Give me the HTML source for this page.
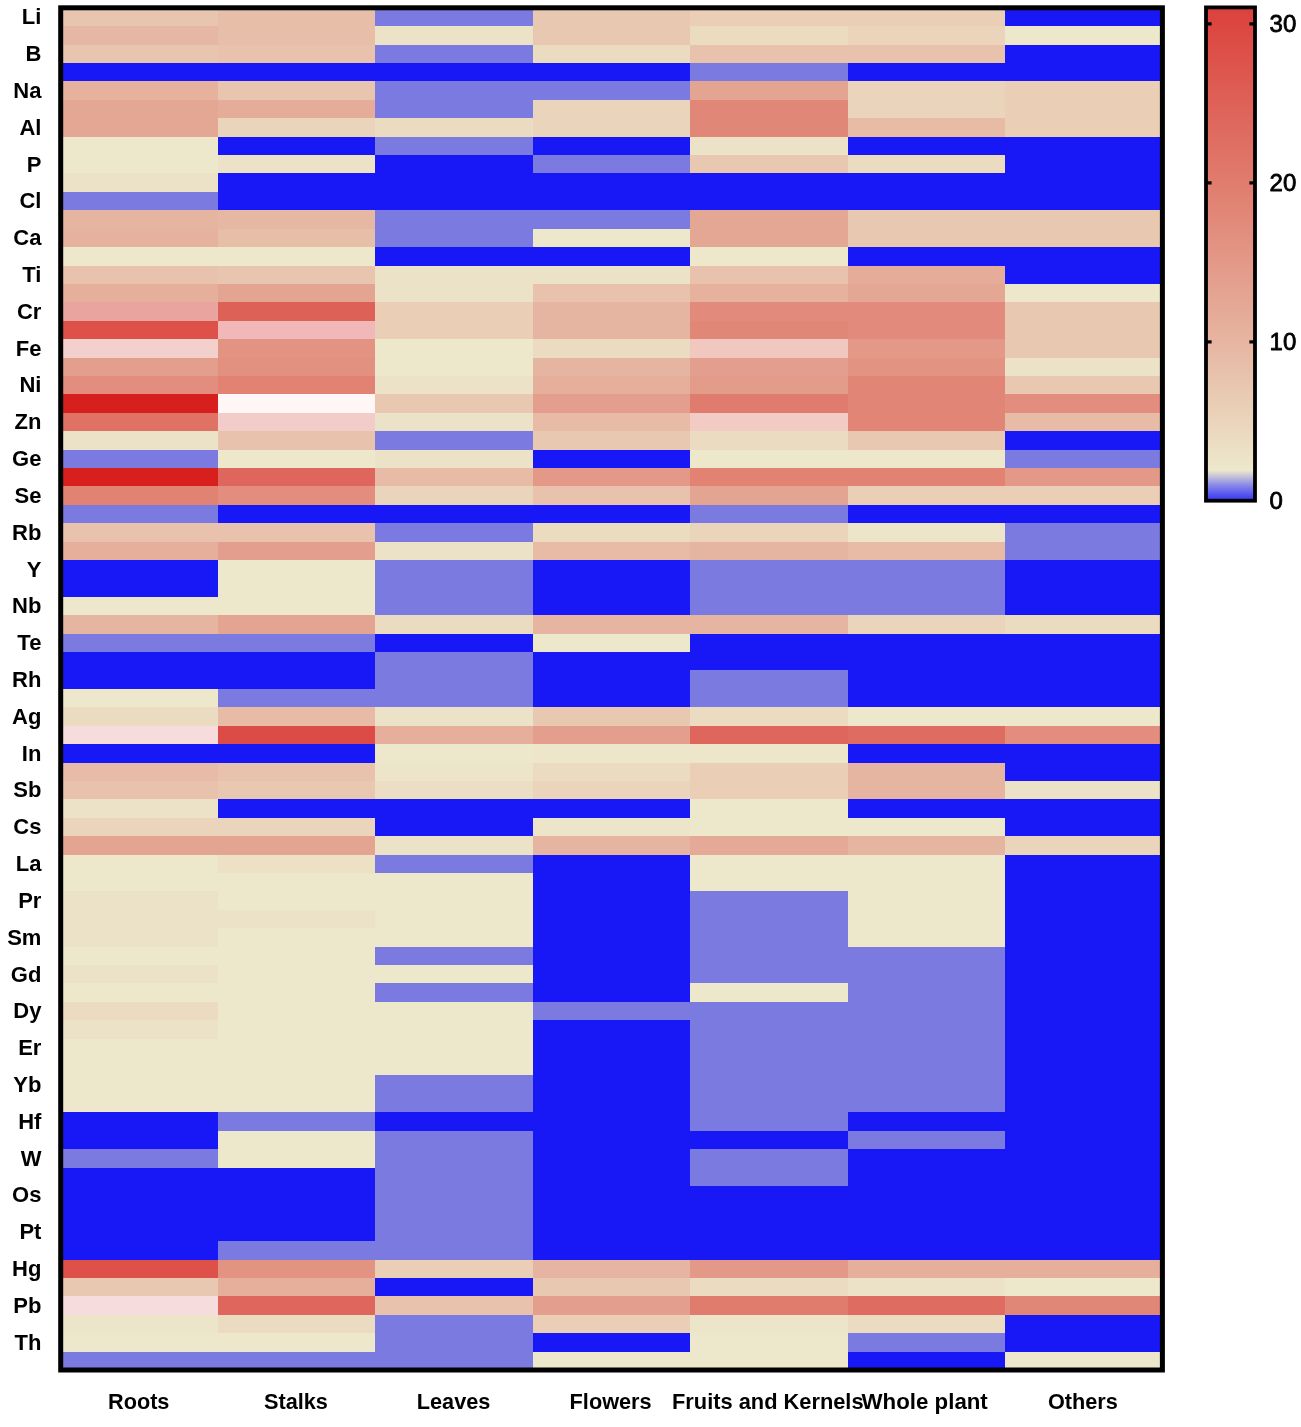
<!DOCTYPE html><html><head><meta charset="utf-8"><title>Heatmap</title><style>html,body{margin:0;padding:0;background:#fff}svg{display:block}text{font-family:"Liberation Sans",Arial,sans-serif;fill:#000}.b{font-weight:bold}</style></head><body>
<svg width="1301" height="1427" viewBox="0 0 1301 1427">
<defs><linearGradient id="cb" x1="0" y1="1" x2="0" y2="0">
<stop offset="0.0000" stop-color="#3c3cf6"/>
<stop offset="0.0081" stop-color="#4848f4"/>
<stop offset="0.0323" stop-color="#8c8ce8"/>
<stop offset="0.0613" stop-color="#ede8cc"/>
<stop offset="0.3226" stop-color="#e6b5a1"/>
<stop offset="0.6452" stop-color="#e07c6e"/>
<stop offset="0.9677" stop-color="#dc4640"/>
<stop offset="1.0000" stop-color="#db423e"/>
</linearGradient></defs>
<rect width="1301" height="1427" fill="#fff"/>
<g shape-rendering="crispEdges">
<rect x="60.70" y="7.80" width="157.89" height="18.91" fill="#e8c5ae"/>
<rect x="60.70" y="26.21" width="157.89" height="18.91" fill="#e6b8a4"/>
<rect x="60.70" y="44.62" width="157.89" height="18.91" fill="#e8c5ae"/>
<rect x="60.70" y="63.02" width="157.89" height="18.91" fill="#1818f6"/>
<rect x="60.70" y="81.43" width="157.89" height="18.91" fill="#e6b29e"/>
<rect x="60.70" y="99.84" width="157.89" height="37.32" fill="#e4a794"/>
<rect x="60.70" y="136.66" width="157.89" height="37.32" fill="#ede8cc"/>
<rect x="60.70" y="173.47" width="157.89" height="18.91" fill="#ece2c7"/>
<rect x="60.70" y="191.88" width="157.89" height="18.91" fill="#7a7ae0"/>
<rect x="60.70" y="210.29" width="157.89" height="18.91" fill="#e6b5a1"/>
<rect x="60.70" y="228.70" width="157.89" height="18.91" fill="#e6b29e"/>
<rect x="60.70" y="247.11" width="157.89" height="18.91" fill="#ede8cc"/>
<rect x="60.70" y="265.51" width="157.89" height="18.91" fill="#e8c2ac"/>
<rect x="60.70" y="283.92" width="157.89" height="18.91" fill="#e5af9c"/>
<rect x="60.70" y="302.33" width="157.89" height="18.91" fill="#eaa4a0"/>
<rect x="60.70" y="320.74" width="157.89" height="18.91" fill="#dd5149"/>
<rect x="60.70" y="339.15" width="157.89" height="18.91" fill="#f4d0cc"/>
<rect x="60.70" y="357.55" width="157.89" height="18.91" fill="#e49e8d"/>
<rect x="60.70" y="375.96" width="157.89" height="18.91" fill="#e28d7d"/>
<rect x="60.70" y="394.37" width="157.89" height="18.91" fill="#d7201d"/>
<rect x="60.70" y="412.78" width="157.89" height="18.91" fill="#df7165"/>
<rect x="60.70" y="431.19" width="157.89" height="18.91" fill="#ece2c7"/>
<rect x="60.70" y="449.59" width="157.89" height="18.91" fill="#7a7ae0"/>
<rect x="60.70" y="468.00" width="157.89" height="18.91" fill="#d7201d"/>
<rect x="60.70" y="486.41" width="157.89" height="18.91" fill="#e18273"/>
<rect x="60.70" y="504.82" width="157.89" height="18.91" fill="#7a7ae0"/>
<rect x="60.70" y="523.23" width="157.89" height="18.91" fill="#e8c2ac"/>
<rect x="60.70" y="541.64" width="157.89" height="18.91" fill="#e5af9c"/>
<rect x="60.70" y="560.04" width="157.89" height="37.32" fill="#1818f6"/>
<rect x="60.70" y="596.86" width="157.89" height="18.91" fill="#ede8cc"/>
<rect x="60.70" y="615.27" width="157.89" height="18.91" fill="#e6b5a1"/>
<rect x="60.70" y="633.68" width="157.89" height="18.91" fill="#7a7ae0"/>
<rect x="60.70" y="652.08" width="157.89" height="37.32" fill="#1818f6"/>
<rect x="60.70" y="688.90" width="157.89" height="18.91" fill="#ede8cc"/>
<rect x="60.70" y="707.31" width="157.89" height="18.91" fill="#ebdbc1"/>
<rect x="60.70" y="725.72" width="157.89" height="18.91" fill="#f6dcdc"/>
<rect x="60.70" y="744.12" width="157.89" height="18.91" fill="#1818f6"/>
<rect x="60.70" y="762.53" width="157.89" height="18.91" fill="#e7bba6"/>
<rect x="60.70" y="780.94" width="157.89" height="18.91" fill="#e8c2ac"/>
<rect x="60.70" y="799.35" width="157.89" height="18.91" fill="#ece2c7"/>
<rect x="60.70" y="817.76" width="157.89" height="18.91" fill="#ead5bc"/>
<rect x="60.70" y="836.16" width="157.89" height="18.91" fill="#e4a492"/>
<rect x="60.70" y="854.57" width="157.89" height="37.32" fill="#ede7cb"/>
<rect x="60.70" y="891.39" width="157.89" height="55.72" fill="#ece2c7"/>
<rect x="60.70" y="946.61" width="157.89" height="18.91" fill="#ede7cb"/>
<rect x="60.70" y="965.02" width="157.89" height="18.91" fill="#ece2c7"/>
<rect x="60.70" y="983.43" width="157.89" height="18.91" fill="#ede7cb"/>
<rect x="60.70" y="1001.84" width="157.89" height="18.91" fill="#ebdbc1"/>
<rect x="60.70" y="1020.25" width="157.89" height="18.91" fill="#ece2c7"/>
<rect x="60.70" y="1038.65" width="157.89" height="74.13" fill="#ede8cc"/>
<rect x="60.70" y="1112.29" width="157.89" height="37.32" fill="#1818f6"/>
<rect x="60.70" y="1149.10" width="157.89" height="18.91" fill="#7a7ae0"/>
<rect x="60.70" y="1167.51" width="157.89" height="92.54" fill="#1818f6"/>
<rect x="60.70" y="1259.55" width="157.89" height="18.91" fill="#dd5149"/>
<rect x="60.70" y="1277.96" width="157.89" height="18.91" fill="#e9c8b1"/>
<rect x="60.70" y="1296.37" width="157.89" height="18.91" fill="#f6dcdc"/>
<rect x="60.70" y="1314.78" width="157.89" height="18.91" fill="#ede5c9"/>
<rect x="60.70" y="1333.18" width="157.89" height="18.91" fill="#ede8cc"/>
<rect x="60.70" y="1351.59" width="157.89" height="18.91" fill="#7a7ae0"/>
<rect x="218.09" y="7.80" width="157.89" height="37.32" fill="#e7bfa9"/>
<rect x="218.09" y="44.62" width="157.89" height="18.91" fill="#e8c2ac"/>
<rect x="218.09" y="63.02" width="157.89" height="18.91" fill="#1818f6"/>
<rect x="218.09" y="81.43" width="157.89" height="18.91" fill="#e8c5ae"/>
<rect x="218.09" y="99.84" width="157.89" height="18.91" fill="#e5ac99"/>
<rect x="218.09" y="118.25" width="157.89" height="18.91" fill="#ead5bc"/>
<rect x="218.09" y="136.66" width="157.89" height="18.91" fill="#1818f6"/>
<rect x="218.09" y="155.06" width="157.89" height="18.91" fill="#ece2c7"/>
<rect x="218.09" y="173.47" width="157.89" height="37.32" fill="#1818f6"/>
<rect x="218.09" y="210.29" width="157.89" height="18.91" fill="#e6b8a4"/>
<rect x="218.09" y="228.70" width="157.89" height="18.91" fill="#e7bfa9"/>
<rect x="218.09" y="247.11" width="157.89" height="18.91" fill="#ede8cc"/>
<rect x="218.09" y="265.51" width="157.89" height="18.91" fill="#e8c5ae"/>
<rect x="218.09" y="283.92" width="157.89" height="18.91" fill="#e4a492"/>
<rect x="218.09" y="302.33" width="157.89" height="18.91" fill="#de6157"/>
<rect x="218.09" y="320.74" width="157.89" height="18.91" fill="#f0b8b8"/>
<rect x="218.09" y="339.15" width="157.89" height="18.91" fill="#e29382"/>
<rect x="218.09" y="357.55" width="157.89" height="18.91" fill="#e29080"/>
<rect x="218.09" y="375.96" width="157.89" height="18.91" fill="#e18273"/>
<rect x="218.09" y="394.37" width="157.89" height="18.91" fill="#fff6f6"/>
<rect x="218.09" y="412.78" width="157.89" height="18.91" fill="#f2ccc8"/>
<rect x="218.09" y="431.19" width="157.89" height="18.91" fill="#e8c2ac"/>
<rect x="218.09" y="449.59" width="157.89" height="18.91" fill="#ede8cc"/>
<rect x="218.09" y="468.00" width="157.89" height="18.91" fill="#de665c"/>
<rect x="218.09" y="486.41" width="157.89" height="18.91" fill="#e28d7d"/>
<rect x="218.09" y="504.82" width="157.89" height="18.91" fill="#1818f6"/>
<rect x="218.09" y="523.23" width="157.89" height="18.91" fill="#e8c2ac"/>
<rect x="218.09" y="541.64" width="157.89" height="18.91" fill="#e49e8d"/>
<rect x="218.09" y="560.04" width="157.89" height="55.72" fill="#ede8cc"/>
<rect x="218.09" y="615.27" width="157.89" height="18.91" fill="#e4a492"/>
<rect x="218.09" y="633.68" width="157.89" height="18.91" fill="#7a7ae0"/>
<rect x="218.09" y="652.08" width="157.89" height="37.32" fill="#1818f6"/>
<rect x="218.09" y="688.90" width="157.89" height="18.91" fill="#7a7ae0"/>
<rect x="218.09" y="707.31" width="157.89" height="18.91" fill="#e7bba6"/>
<rect x="218.09" y="725.72" width="157.89" height="18.91" fill="#dc4b45"/>
<rect x="218.09" y="744.12" width="157.89" height="18.91" fill="#1818f6"/>
<rect x="218.09" y="762.53" width="157.89" height="18.91" fill="#e8c2ac"/>
<rect x="218.09" y="780.94" width="157.89" height="18.91" fill="#e9c8b1"/>
<rect x="218.09" y="799.35" width="157.89" height="18.91" fill="#1818f6"/>
<rect x="218.09" y="817.76" width="157.89" height="18.91" fill="#ead5bc"/>
<rect x="218.09" y="836.16" width="157.89" height="18.91" fill="#e4a492"/>
<rect x="218.09" y="854.57" width="157.89" height="18.91" fill="#ece0c5"/>
<rect x="218.09" y="872.98" width="157.89" height="37.32" fill="#ede7cb"/>
<rect x="218.09" y="909.80" width="157.89" height="18.91" fill="#ece2c7"/>
<rect x="218.09" y="928.21" width="157.89" height="184.58" fill="#ede8cc"/>
<rect x="218.09" y="1112.29" width="157.89" height="18.91" fill="#7a7ae0"/>
<rect x="218.09" y="1130.69" width="157.89" height="37.32" fill="#ede8cc"/>
<rect x="218.09" y="1167.51" width="157.89" height="74.13" fill="#1818f6"/>
<rect x="218.09" y="1241.14" width="157.89" height="18.91" fill="#7a7ae0"/>
<rect x="218.09" y="1259.55" width="157.89" height="18.91" fill="#e29382"/>
<rect x="218.09" y="1277.96" width="157.89" height="18.91" fill="#e5af9c"/>
<rect x="218.09" y="1296.37" width="157.89" height="18.91" fill="#de665c"/>
<rect x="218.09" y="1314.78" width="157.89" height="18.91" fill="#ebdbc1"/>
<rect x="218.09" y="1333.18" width="157.89" height="18.91" fill="#ede8cc"/>
<rect x="218.09" y="1351.59" width="157.89" height="18.91" fill="#7a7ae0"/>
<rect x="375.47" y="7.80" width="157.89" height="18.91" fill="#7a7ae0"/>
<rect x="375.47" y="26.21" width="157.89" height="18.91" fill="#ece2c7"/>
<rect x="375.47" y="44.62" width="157.89" height="18.91" fill="#7a7ae0"/>
<rect x="375.47" y="63.02" width="157.89" height="18.91" fill="#1818f6"/>
<rect x="375.47" y="81.43" width="157.89" height="37.32" fill="#7a7ae0"/>
<rect x="375.47" y="118.25" width="157.89" height="18.91" fill="#ebdbc1"/>
<rect x="375.47" y="136.66" width="157.89" height="18.91" fill="#7a7ae0"/>
<rect x="375.47" y="155.06" width="157.89" height="55.72" fill="#1818f6"/>
<rect x="375.47" y="210.29" width="157.89" height="37.32" fill="#7a7ae0"/>
<rect x="375.47" y="247.11" width="157.89" height="18.91" fill="#1818f6"/>
<rect x="375.47" y="265.51" width="157.89" height="37.32" fill="#ece2c7"/>
<rect x="375.47" y="302.33" width="157.89" height="37.32" fill="#eaceb6"/>
<rect x="375.47" y="339.15" width="157.89" height="37.32" fill="#ede8cc"/>
<rect x="375.47" y="375.96" width="157.89" height="18.91" fill="#ece2c7"/>
<rect x="375.47" y="394.37" width="157.89" height="18.91" fill="#e9c8b1"/>
<rect x="375.47" y="412.78" width="157.89" height="18.91" fill="#ece2c7"/>
<rect x="375.47" y="431.19" width="157.89" height="18.91" fill="#7a7ae0"/>
<rect x="375.47" y="449.59" width="157.89" height="18.91" fill="#ece2c7"/>
<rect x="375.47" y="468.00" width="157.89" height="18.91" fill="#e7bba6"/>
<rect x="375.47" y="486.41" width="157.89" height="18.91" fill="#ead5bc"/>
<rect x="375.47" y="504.82" width="157.89" height="18.91" fill="#1818f6"/>
<rect x="375.47" y="523.23" width="157.89" height="18.91" fill="#7a7ae0"/>
<rect x="375.47" y="541.64" width="157.89" height="18.91" fill="#ece2c7"/>
<rect x="375.47" y="560.04" width="157.89" height="55.72" fill="#7a7ae0"/>
<rect x="375.47" y="615.27" width="157.89" height="18.91" fill="#ebdbc1"/>
<rect x="375.47" y="633.68" width="157.89" height="18.91" fill="#1818f6"/>
<rect x="375.47" y="652.08" width="157.89" height="55.72" fill="#7a7ae0"/>
<rect x="375.47" y="707.31" width="157.89" height="18.91" fill="#ece2c7"/>
<rect x="375.47" y="725.72" width="157.89" height="18.91" fill="#e5af9c"/>
<rect x="375.47" y="744.12" width="157.89" height="18.91" fill="#ede8cc"/>
<rect x="375.47" y="762.53" width="157.89" height="18.91" fill="#ede5c9"/>
<rect x="375.47" y="780.94" width="157.89" height="18.91" fill="#ecdec4"/>
<rect x="375.47" y="799.35" width="157.89" height="37.32" fill="#1818f6"/>
<rect x="375.47" y="836.16" width="157.89" height="18.91" fill="#ece2c7"/>
<rect x="375.47" y="854.57" width="157.89" height="18.91" fill="#7a7ae0"/>
<rect x="375.47" y="872.98" width="157.89" height="74.13" fill="#ede8cc"/>
<rect x="375.47" y="946.61" width="157.89" height="18.91" fill="#7a7ae0"/>
<rect x="375.47" y="965.02" width="157.89" height="18.91" fill="#ede8cc"/>
<rect x="375.47" y="983.43" width="157.89" height="18.91" fill="#7a7ae0"/>
<rect x="375.47" y="1001.84" width="157.89" height="74.13" fill="#ede8cc"/>
<rect x="375.47" y="1075.47" width="157.89" height="37.32" fill="#7a7ae0"/>
<rect x="375.47" y="1112.29" width="157.89" height="18.91" fill="#1818f6"/>
<rect x="375.47" y="1130.69" width="157.89" height="129.36" fill="#7a7ae0"/>
<rect x="375.47" y="1259.55" width="157.89" height="18.91" fill="#eaceb6"/>
<rect x="375.47" y="1277.96" width="157.89" height="18.91" fill="#1818f6"/>
<rect x="375.47" y="1296.37" width="157.89" height="18.91" fill="#e8c2ac"/>
<rect x="375.47" y="1314.78" width="157.89" height="55.72" fill="#7a7ae0"/>
<rect x="532.86" y="7.80" width="157.89" height="37.32" fill="#e9c8b1"/>
<rect x="532.86" y="44.62" width="157.89" height="18.91" fill="#ebdbc1"/>
<rect x="532.86" y="63.02" width="157.89" height="18.91" fill="#1818f6"/>
<rect x="532.86" y="81.43" width="157.89" height="18.91" fill="#7a7ae0"/>
<rect x="532.86" y="99.84" width="157.89" height="37.32" fill="#ead5bc"/>
<rect x="532.86" y="136.66" width="157.89" height="18.91" fill="#1818f6"/>
<rect x="532.86" y="155.06" width="157.89" height="18.91" fill="#7a7ae0"/>
<rect x="532.86" y="173.47" width="157.89" height="37.32" fill="#1818f6"/>
<rect x="532.86" y="210.29" width="157.89" height="18.91" fill="#7a7ae0"/>
<rect x="532.86" y="228.70" width="157.89" height="18.91" fill="#ede8cc"/>
<rect x="532.86" y="247.11" width="157.89" height="18.91" fill="#1818f6"/>
<rect x="532.86" y="265.51" width="157.89" height="18.91" fill="#ece2c7"/>
<rect x="532.86" y="283.92" width="157.89" height="18.91" fill="#e8c2ac"/>
<rect x="532.86" y="302.33" width="157.89" height="37.32" fill="#e6b5a1"/>
<rect x="532.86" y="339.15" width="157.89" height="18.91" fill="#ebdbc1"/>
<rect x="532.86" y="357.55" width="157.89" height="18.91" fill="#e6b5a1"/>
<rect x="532.86" y="375.96" width="157.89" height="18.91" fill="#e5af9c"/>
<rect x="532.86" y="394.37" width="157.89" height="18.91" fill="#e49e8d"/>
<rect x="532.86" y="412.78" width="157.89" height="18.91" fill="#e7bba6"/>
<rect x="532.86" y="431.19" width="157.89" height="18.91" fill="#e9c8b1"/>
<rect x="532.86" y="449.59" width="157.89" height="18.91" fill="#1818f6"/>
<rect x="532.86" y="468.00" width="157.89" height="18.91" fill="#e39888"/>
<rect x="532.86" y="486.41" width="157.89" height="18.91" fill="#e8c2ac"/>
<rect x="532.86" y="504.82" width="157.89" height="18.91" fill="#1818f6"/>
<rect x="532.86" y="523.23" width="157.89" height="18.91" fill="#ebdbc1"/>
<rect x="532.86" y="541.64" width="157.89" height="18.91" fill="#e7bba6"/>
<rect x="532.86" y="560.04" width="157.89" height="55.72" fill="#1818f6"/>
<rect x="532.86" y="615.27" width="157.89" height="18.91" fill="#e6b5a1"/>
<rect x="532.86" y="633.68" width="157.89" height="18.91" fill="#ede8cc"/>
<rect x="532.86" y="652.08" width="157.89" height="55.72" fill="#1818f6"/>
<rect x="532.86" y="707.31" width="157.89" height="18.91" fill="#e9c8b1"/>
<rect x="532.86" y="725.72" width="157.89" height="18.91" fill="#e49e8d"/>
<rect x="532.86" y="744.12" width="157.89" height="18.91" fill="#ede6ca"/>
<rect x="532.86" y="762.53" width="157.89" height="18.91" fill="#ebdbc1"/>
<rect x="532.86" y="780.94" width="157.89" height="18.91" fill="#ead5bc"/>
<rect x="532.86" y="799.35" width="157.89" height="18.91" fill="#1818f6"/>
<rect x="532.86" y="817.76" width="157.89" height="18.91" fill="#ede5c9"/>
<rect x="532.86" y="836.16" width="157.89" height="18.91" fill="#e6b5a1"/>
<rect x="532.86" y="854.57" width="157.89" height="147.76" fill="#1818f6"/>
<rect x="532.86" y="1001.84" width="157.89" height="18.91" fill="#7a7ae0"/>
<rect x="532.86" y="1020.25" width="157.89" height="239.81" fill="#1818f6"/>
<rect x="532.86" y="1259.55" width="157.89" height="18.91" fill="#e6b5a1"/>
<rect x="532.86" y="1277.96" width="157.89" height="18.91" fill="#e9c8b1"/>
<rect x="532.86" y="1296.37" width="157.89" height="18.91" fill="#e49e8d"/>
<rect x="532.86" y="1314.78" width="157.89" height="18.91" fill="#eaceb6"/>
<rect x="532.86" y="1333.18" width="157.89" height="18.91" fill="#1818f6"/>
<rect x="532.86" y="1351.59" width="157.89" height="18.91" fill="#ede8cc"/>
<rect x="690.24" y="7.80" width="157.89" height="18.91" fill="#eaceb6"/>
<rect x="690.24" y="26.21" width="157.89" height="18.91" fill="#ebdbc1"/>
<rect x="690.24" y="44.62" width="157.89" height="18.91" fill="#e8c2ac"/>
<rect x="690.24" y="63.02" width="157.89" height="18.91" fill="#7a7ae0"/>
<rect x="690.24" y="81.43" width="157.89" height="18.91" fill="#e4a492"/>
<rect x="690.24" y="99.84" width="157.89" height="37.32" fill="#e18778"/>
<rect x="690.24" y="136.66" width="157.89" height="18.91" fill="#ece2c7"/>
<rect x="690.24" y="155.06" width="157.89" height="18.91" fill="#e9c8b1"/>
<rect x="690.24" y="173.47" width="157.89" height="37.32" fill="#1818f6"/>
<rect x="690.24" y="210.29" width="157.89" height="37.32" fill="#e4a794"/>
<rect x="690.24" y="247.11" width="157.89" height="18.91" fill="#ede8cc"/>
<rect x="690.24" y="265.51" width="157.89" height="18.91" fill="#e8c2ac"/>
<rect x="690.24" y="283.92" width="157.89" height="18.91" fill="#e6b29e"/>
<rect x="690.24" y="302.33" width="157.89" height="18.91" fill="#e28a7b"/>
<rect x="690.24" y="320.74" width="157.89" height="18.91" fill="#e18778"/>
<rect x="690.24" y="339.15" width="157.89" height="18.91" fill="#f0c8c0"/>
<rect x="690.24" y="357.55" width="157.89" height="18.91" fill="#e49e8d"/>
<rect x="690.24" y="375.96" width="157.89" height="18.91" fill="#e39b8a"/>
<rect x="690.24" y="394.37" width="157.89" height="18.91" fill="#e07c6e"/>
<rect x="690.24" y="412.78" width="157.89" height="18.91" fill="#f2ccc4"/>
<rect x="690.24" y="431.19" width="157.89" height="18.91" fill="#ebdbc1"/>
<rect x="690.24" y="449.59" width="157.89" height="18.91" fill="#ede8cc"/>
<rect x="690.24" y="468.00" width="157.89" height="18.91" fill="#e18273"/>
<rect x="690.24" y="486.41" width="157.89" height="18.91" fill="#e4a492"/>
<rect x="690.24" y="504.82" width="157.89" height="18.91" fill="#7a7ae0"/>
<rect x="690.24" y="523.23" width="157.89" height="18.91" fill="#ead5bc"/>
<rect x="690.24" y="541.64" width="157.89" height="18.91" fill="#e6b5a1"/>
<rect x="690.24" y="560.04" width="157.89" height="55.72" fill="#7a7ae0"/>
<rect x="690.24" y="615.27" width="157.89" height="18.91" fill="#e6b5a1"/>
<rect x="690.24" y="633.68" width="157.89" height="37.32" fill="#1818f6"/>
<rect x="690.24" y="670.49" width="157.89" height="37.32" fill="#7a7ae0"/>
<rect x="690.24" y="707.31" width="157.89" height="18.91" fill="#ebdbc1"/>
<rect x="690.24" y="725.72" width="157.89" height="18.91" fill="#de665c"/>
<rect x="690.24" y="744.12" width="157.89" height="18.91" fill="#ede6ca"/>
<rect x="690.24" y="762.53" width="157.89" height="37.32" fill="#eaceb6"/>
<rect x="690.24" y="799.35" width="157.89" height="37.32" fill="#ede8cc"/>
<rect x="690.24" y="836.16" width="157.89" height="18.91" fill="#e5aa97"/>
<rect x="690.24" y="854.57" width="157.89" height="37.32" fill="#ede8cc"/>
<rect x="690.24" y="891.39" width="157.89" height="92.54" fill="#7a7ae0"/>
<rect x="690.24" y="983.43" width="157.89" height="18.91" fill="#ede8cc"/>
<rect x="690.24" y="1001.84" width="157.89" height="129.36" fill="#7a7ae0"/>
<rect x="690.24" y="1130.69" width="157.89" height="18.91" fill="#1818f6"/>
<rect x="690.24" y="1149.10" width="157.89" height="37.32" fill="#7a7ae0"/>
<rect x="690.24" y="1185.92" width="157.89" height="74.13" fill="#1818f6"/>
<rect x="690.24" y="1259.55" width="157.89" height="18.91" fill="#e39888"/>
<rect x="690.24" y="1277.96" width="157.89" height="18.91" fill="#ebdbc1"/>
<rect x="690.24" y="1296.37" width="157.89" height="18.91" fill="#e07c6e"/>
<rect x="690.24" y="1314.78" width="157.89" height="18.91" fill="#ede5c9"/>
<rect x="690.24" y="1333.18" width="157.89" height="37.32" fill="#ede8cc"/>
<rect x="847.63" y="7.80" width="157.89" height="18.91" fill="#eaceb6"/>
<rect x="847.63" y="26.21" width="157.89" height="18.91" fill="#ead5bc"/>
<rect x="847.63" y="44.62" width="157.89" height="18.91" fill="#e8c2ac"/>
<rect x="847.63" y="63.02" width="157.89" height="18.91" fill="#1818f6"/>
<rect x="847.63" y="81.43" width="157.89" height="37.32" fill="#ead5bc"/>
<rect x="847.63" y="118.25" width="157.89" height="18.91" fill="#e7bba6"/>
<rect x="847.63" y="136.66" width="157.89" height="18.91" fill="#1818f6"/>
<rect x="847.63" y="155.06" width="157.89" height="18.91" fill="#ebdbc1"/>
<rect x="847.63" y="173.47" width="157.89" height="37.32" fill="#1818f6"/>
<rect x="847.63" y="210.29" width="157.89" height="37.32" fill="#e9c8b1"/>
<rect x="847.63" y="247.11" width="157.89" height="18.91" fill="#1818f6"/>
<rect x="847.63" y="265.51" width="157.89" height="18.91" fill="#e5ac99"/>
<rect x="847.63" y="283.92" width="157.89" height="18.91" fill="#e4a794"/>
<rect x="847.63" y="302.33" width="157.89" height="37.32" fill="#e28a7b"/>
<rect x="847.63" y="339.15" width="157.89" height="18.91" fill="#e39888"/>
<rect x="847.63" y="357.55" width="157.89" height="18.91" fill="#e29382"/>
<rect x="847.63" y="375.96" width="157.89" height="55.72" fill="#e18576"/>
<rect x="847.63" y="431.19" width="157.89" height="18.91" fill="#e9c8b1"/>
<rect x="847.63" y="449.59" width="157.89" height="18.91" fill="#ede8cc"/>
<rect x="847.63" y="468.00" width="157.89" height="18.91" fill="#e18273"/>
<rect x="847.63" y="486.41" width="157.89" height="18.91" fill="#eaceb6"/>
<rect x="847.63" y="504.82" width="157.89" height="18.91" fill="#1818f6"/>
<rect x="847.63" y="523.23" width="157.89" height="18.91" fill="#ede5c9"/>
<rect x="847.63" y="541.64" width="157.89" height="18.91" fill="#e7bba6"/>
<rect x="847.63" y="560.04" width="157.89" height="55.72" fill="#7a7ae0"/>
<rect x="847.63" y="615.27" width="157.89" height="18.91" fill="#ead5bc"/>
<rect x="847.63" y="633.68" width="157.89" height="74.13" fill="#1818f6"/>
<rect x="847.63" y="707.31" width="157.89" height="18.91" fill="#ede8cc"/>
<rect x="847.63" y="725.72" width="157.89" height="18.91" fill="#df6c60"/>
<rect x="847.63" y="744.12" width="157.89" height="18.91" fill="#1818f6"/>
<rect x="847.63" y="762.53" width="157.89" height="37.32" fill="#e6b5a1"/>
<rect x="847.63" y="799.35" width="157.89" height="18.91" fill="#1818f6"/>
<rect x="847.63" y="817.76" width="157.89" height="18.91" fill="#ede8cc"/>
<rect x="847.63" y="836.16" width="157.89" height="18.91" fill="#e6b5a1"/>
<rect x="847.63" y="854.57" width="157.89" height="92.54" fill="#ede8cc"/>
<rect x="847.63" y="946.61" width="157.89" height="166.17" fill="#7a7ae0"/>
<rect x="847.63" y="1112.29" width="157.89" height="18.91" fill="#1818f6"/>
<rect x="847.63" y="1130.69" width="157.89" height="18.91" fill="#7a7ae0"/>
<rect x="847.63" y="1149.10" width="157.89" height="110.95" fill="#1818f6"/>
<rect x="847.63" y="1259.55" width="157.89" height="18.91" fill="#e5af9c"/>
<rect x="847.63" y="1277.96" width="157.89" height="18.91" fill="#ece2c7"/>
<rect x="847.63" y="1296.37" width="157.89" height="18.91" fill="#df6c60"/>
<rect x="847.63" y="1314.78" width="157.89" height="18.91" fill="#ebdbc1"/>
<rect x="847.63" y="1333.18" width="157.89" height="18.91" fill="#7a7ae0"/>
<rect x="847.63" y="1351.59" width="157.89" height="18.91" fill="#1818f6"/>
<rect x="1005.01" y="7.80" width="157.89" height="18.91" fill="#1818f6"/>
<rect x="1005.01" y="26.21" width="157.89" height="18.91" fill="#ede8cc"/>
<rect x="1005.01" y="44.62" width="157.89" height="37.32" fill="#1818f6"/>
<rect x="1005.01" y="81.43" width="157.89" height="55.72" fill="#eaceb6"/>
<rect x="1005.01" y="136.66" width="157.89" height="74.13" fill="#1818f6"/>
<rect x="1005.01" y="210.29" width="157.89" height="37.32" fill="#e9c8b1"/>
<rect x="1005.01" y="247.11" width="157.89" height="37.32" fill="#1818f6"/>
<rect x="1005.01" y="283.92" width="157.89" height="18.91" fill="#ede8cc"/>
<rect x="1005.01" y="302.33" width="157.89" height="55.72" fill="#e9c8b1"/>
<rect x="1005.01" y="357.55" width="157.89" height="18.91" fill="#ece2c7"/>
<rect x="1005.01" y="375.96" width="157.89" height="18.91" fill="#e9c8b1"/>
<rect x="1005.01" y="394.37" width="157.89" height="18.91" fill="#e28d7d"/>
<rect x="1005.01" y="412.78" width="157.89" height="18.91" fill="#e7bba6"/>
<rect x="1005.01" y="431.19" width="157.89" height="18.91" fill="#1818f6"/>
<rect x="1005.01" y="449.59" width="157.89" height="18.91" fill="#7a7ae0"/>
<rect x="1005.01" y="468.00" width="157.89" height="18.91" fill="#e39888"/>
<rect x="1005.01" y="486.41" width="157.89" height="18.91" fill="#eaceb6"/>
<rect x="1005.01" y="504.82" width="157.89" height="18.91" fill="#1818f6"/>
<rect x="1005.01" y="523.23" width="157.89" height="37.32" fill="#7a7ae0"/>
<rect x="1005.01" y="560.04" width="157.89" height="55.72" fill="#1818f6"/>
<rect x="1005.01" y="615.27" width="157.89" height="18.91" fill="#ebdbc1"/>
<rect x="1005.01" y="633.68" width="157.89" height="74.13" fill="#1818f6"/>
<rect x="1005.01" y="707.31" width="157.89" height="18.91" fill="#ede8cc"/>
<rect x="1005.01" y="725.72" width="157.89" height="18.91" fill="#e28d7d"/>
<rect x="1005.01" y="744.12" width="157.89" height="37.32" fill="#1818f6"/>
<rect x="1005.01" y="780.94" width="157.89" height="18.91" fill="#ece2c7"/>
<rect x="1005.01" y="799.35" width="157.89" height="37.32" fill="#1818f6"/>
<rect x="1005.01" y="836.16" width="157.89" height="18.91" fill="#ead5bc"/>
<rect x="1005.01" y="854.57" width="157.89" height="405.48" fill="#1818f6"/>
<rect x="1005.01" y="1259.55" width="157.89" height="18.91" fill="#e5af9c"/>
<rect x="1005.01" y="1277.96" width="157.89" height="18.91" fill="#ede8cc"/>
<rect x="1005.01" y="1296.37" width="157.89" height="18.91" fill="#e18778"/>
<rect x="1005.01" y="1314.78" width="157.89" height="37.32" fill="#1818f6"/>
<rect x="1005.01" y="1351.59" width="157.89" height="18.91" fill="#ede8cc"/>
</g>
<rect x="60.70" y="7.80" width="1101.70" height="1362.20" fill="none" stroke="#000" stroke-width="5"/>
<text class="b" x="41.4" y="24.30" font-size="22" text-anchor="end">Li</text>
<text class="b" x="41.4" y="61.12" font-size="22" text-anchor="end">B</text>
<text class="b" x="41.4" y="97.94" font-size="22" text-anchor="end">Na</text>
<text class="b" x="41.4" y="134.75" font-size="22" text-anchor="end">Al</text>
<text class="b" x="41.4" y="171.57" font-size="22" text-anchor="end">P</text>
<text class="b" x="41.4" y="208.39" font-size="22" text-anchor="end">Cl</text>
<text class="b" x="41.4" y="245.20" font-size="22" text-anchor="end">Ca</text>
<text class="b" x="41.4" y="282.02" font-size="22" text-anchor="end">Ti</text>
<text class="b" x="41.4" y="318.83" font-size="22" text-anchor="end">Cr</text>
<text class="b" x="41.4" y="355.65" font-size="22" text-anchor="end">Fe</text>
<text class="b" x="41.4" y="392.47" font-size="22" text-anchor="end">Ni</text>
<text class="b" x="41.4" y="429.28" font-size="22" text-anchor="end">Zn</text>
<text class="b" x="41.4" y="466.10" font-size="22" text-anchor="end">Ge</text>
<text class="b" x="41.4" y="502.91" font-size="22" text-anchor="end">Se</text>
<text class="b" x="41.4" y="539.73" font-size="22" text-anchor="end">Rb</text>
<text class="b" x="41.4" y="576.55" font-size="22" text-anchor="end">Y</text>
<text class="b" x="41.4" y="613.36" font-size="22" text-anchor="end">Nb</text>
<text class="b" x="41.4" y="650.18" font-size="22" text-anchor="end">Te</text>
<text class="b" x="41.4" y="687.00" font-size="22" text-anchor="end">Rh</text>
<text class="b" x="41.4" y="723.81" font-size="22" text-anchor="end">Ag</text>
<text class="b" x="41.4" y="760.63" font-size="22" text-anchor="end">In</text>
<text class="b" x="41.4" y="797.44" font-size="22" text-anchor="end">Sb</text>
<text class="b" x="41.4" y="834.26" font-size="22" text-anchor="end">Cs</text>
<text class="b" x="41.4" y="871.08" font-size="22" text-anchor="end">La</text>
<text class="b" x="41.4" y="907.89" font-size="22" text-anchor="end">Pr</text>
<text class="b" x="41.4" y="944.71" font-size="22" text-anchor="end">Sm</text>
<text class="b" x="41.4" y="981.53" font-size="22" text-anchor="end">Gd</text>
<text class="b" x="41.4" y="1018.34" font-size="22" text-anchor="end">Dy</text>
<text class="b" x="41.4" y="1055.16" font-size="22" text-anchor="end">Er</text>
<text class="b" x="41.4" y="1091.97" font-size="22" text-anchor="end">Yb</text>
<text class="b" x="41.4" y="1128.79" font-size="22" text-anchor="end">Hf</text>
<text class="b" x="41.4" y="1165.61" font-size="22" text-anchor="end">W</text>
<text class="b" x="41.4" y="1202.42" font-size="22" text-anchor="end">Os</text>
<text class="b" x="41.4" y="1239.24" font-size="22" text-anchor="end">Pt</text>
<text class="b" x="41.4" y="1276.06" font-size="22" text-anchor="end">Hg</text>
<text class="b" x="41.4" y="1312.87" font-size="22" text-anchor="end">Pb</text>
<text class="b" x="41.4" y="1349.69" font-size="22" text-anchor="end">Th</text>
<text class="b" x="138.70" y="1408.8" font-size="21.7" text-anchor="middle">Roots</text>
<text class="b" x="295.90" y="1408.8" font-size="21.7" text-anchor="middle">Stalks</text>
<text class="b" x="453.60" y="1408.8" font-size="21.7" text-anchor="middle">Leaves</text>
<text class="b" x="610.60" y="1408.8" font-size="21.7" text-anchor="middle">Flowers</text>
<text class="b" x="767.80" y="1408.8" font-size="21.7" text-anchor="middle" textLength="191.5" lengthAdjust="spacingAndGlyphs">Fruits and Kernels</text>
<text class="b" x="924.70" y="1408.8" font-size="21.7" text-anchor="middle" textLength="126.2" lengthAdjust="spacingAndGlyphs">Whole plant</text>
<text class="b" x="1082.90" y="1408.8" font-size="21.7" text-anchor="middle">Others</text>
<rect x="1206" y="7.4" width="49" height="493.3" fill="url(#cb)"/>
<rect x="1206" y="7.4" width="49" height="493.3" fill="none" stroke="#000" stroke-width="3.8"/>
<rect x="1206" y="340.30" width="5.6" height="3.2" fill="#000"/>
<rect x="1249.4" y="340.30" width="5.6" height="3.2" fill="#000"/>
<rect x="1206" y="181.30" width="5.6" height="3.2" fill="#000"/>
<rect x="1249.4" y="181.30" width="5.6" height="3.2" fill="#000"/>
<rect x="1206" y="22.30" width="5.6" height="3.2" fill="#000"/>
<rect x="1249.4" y="22.30" width="5.6" height="3.2" fill="#000"/>
<text x="1269.6" y="509.40" font-size="24" stroke="#000" stroke-width="0.8" stroke-linejoin="round">0</text>
<text x="1269.6" y="350.40" font-size="24" stroke="#000" stroke-width="0.8" stroke-linejoin="round" textLength="26.7" lengthAdjust="spacingAndGlyphs">10</text>
<text x="1269.6" y="191.40" font-size="24" stroke="#000" stroke-width="0.8" stroke-linejoin="round" textLength="26.7" lengthAdjust="spacingAndGlyphs">20</text>
<text x="1269.6" y="32.40" font-size="24" stroke="#000" stroke-width="0.8" stroke-linejoin="round" textLength="26.7" lengthAdjust="spacingAndGlyphs">30</text>
</svg></body></html>
